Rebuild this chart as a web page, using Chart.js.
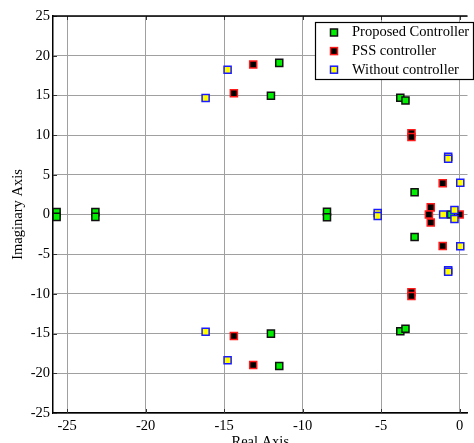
<!DOCTYPE html>
<html>
<head>
<meta charset="utf-8">
<script src="https://cdn.jsdelivr.net/npm/chart.js@4.4.0/dist/chart.umd.min.js"></script>
<style>
  html, body { margin: 0; padding: 0; background: #fff; }
  #wrap { width: 474px; height: 443px; }
</style>
</head>
<body>
<div id="wrap"><canvas id="rootLocus"></canvas></div>
<script>
const xTicks = [-25, -20, -15, -10, -5, 0];
const yTicks = [-25, -20, -15, -10, -5, 0, 5, 10, 15, 20, 25];

// Proposed controller eigenvalues
const proposedRe = [-25.67, -25.67, -23.2, -23.2, -11.49, -11.49, -12.02, -12.02, -8.45, -8.45,
  -3.78, -3.78, -3.45, -3.45, -2.87, -2.87, -0.55];
const proposedIm = [0.3, -0.3, 0.3, -0.3, 19.1, -19.08, 14.95, -15.0, 0.35, -0.35,
  14.7, -14.7, 14.35, -14.38, 2.8, -2.83, 0];

// PSS controller eigenvalues
const pssRe = [-13.15, -13.15, -14.38, -14.38, -3.07, -3.07, -3.07, -3.07,
  -1.08, -1.08, -1.84, -1.96, -1.84, 0];
const pssIm = [18.9, -18.95, 15.27, -15.3, 10.23, 9.76, -9.8, -10.26,
  3.93, -3.97, 0.9, 0, -1.0, 0];

// Without controller eigenvalues
const withoutRe = [-16.18, -16.18, -14.78, -14.78, -0.73, -0.73, -0.73, -0.73,
  0.04, 0.04, -5.22, -5.22, -1.05, -0.33, -0.33];
const withoutIm = [14.67, -14.76, 18.24, -18.36, 7.28, 7.03, -7.03, -7.2,
  4.0, -4.0, 0.2, -0.2, 0, 0.57, -0.57];

const toPoints = (re, im) => re.map((x, i) => ({ x, y: im[i] }));

const serif = { family: '"Liberation Serif", "Times New Roman", serif', size: 14.5 };

// frame (top edge + inward tick marks) and boxed legend like the original figure
const framePlugin = {
  id: 'frame',
  beforeDatasetsDraw(chart) {
    const { ctx, chartArea: a, scales } = chart;
    ctx.save();
    ctx.strokeStyle = '#333';
    ctx.lineWidth = 1;
    xTicks.forEach(v => {
      const px = Math.round(scales.x.getPixelForValue(v)) + 0.5;
      ctx.beginPath();
      ctx.moveTo(px, a.top); ctx.lineTo(px, a.top + 4);
      ctx.moveTo(px, a.bottom); ctx.lineTo(px, a.bottom - 4);
      ctx.stroke();
    });
    yTicks.forEach(v => {
      const py = Math.round(scales.y.getPixelForValue(v)) + 0.5;
      ctx.beginPath();
      ctx.moveTo(a.left, py); ctx.lineTo(a.left + 4, py);
      ctx.stroke();
    });
    ctx.strokeStyle = '#000';
    ctx.lineWidth = 1.5;
    ctx.beginPath();
    ctx.moveTo(a.left, a.top);
    ctx.lineTo(a.right, a.top);
    ctx.stroke();
    ctx.restore();
  },
  afterDatasetsDraw(chart) {
    const { ctx } = chart;
    const box = { x: 315.5, y: 22.5, w: 158, h: 57 };
    ctx.save();
    ctx.fillStyle = '#fff';
    ctx.fillRect(box.x, box.y, box.w, box.h);
    ctx.strokeStyle = '#000';
    ctx.lineWidth = 1.2;
    ctx.strokeRect(box.x, box.y, box.w, box.h);
    ctx.font = serif.size + 'px ' + serif.family;
    ctx.textBaseline = 'middle';
    ctx.fillStyle = '#000';
    chart.data.datasets.forEach((ds, i) => {
      const cy = 32.5 + i * 18.6;
      ctx.fillStyle = ds.backgroundColor;
      ctx.strokeStyle = ds.borderColor;
      ctx.lineWidth = ds.borderWidth;
      ctx.fillRect(330.5, cy - 3.5, 7, 7);
      ctx.strokeRect(330.5, cy - 3.5, 7, 7);
      ctx.fillStyle = '#000';
      ctx.fillText(ds.label, 352, cy);
    });
    ctx.restore();
  }
};

new Chart(document.getElementById('rootLocus'), {
  type: 'scatter',
  data: {
    datasets: [
      {
        label: 'Proposed Controller',
        data: toPoints(proposedRe, proposedIm),
        backgroundColor: '#00ee00',
        borderColor: '#111',
        borderWidth: 1.5,
        order: 2,
      },
      {
        label: 'PSS controller',
        data: toPoints(pssRe, pssIm),
        backgroundColor: '#000',
        borderColor: '#ff1a1a',
        borderWidth: 1.5,
        order: 1,
      },
      {
        label: 'Without controller',
        data: toPoints(withoutRe, withoutIm),
        backgroundColor: '#ffff00',
        borderColor: '#1a1aff',
        borderWidth: 1.5,
        order: 0,
      },
    ],
  },
  options: {
    responsive: true,
    maintainAspectRatio: false,
    animation: false,
    layout: { padding: { top: 16, right: 0, left: 0, bottom: 0 } },
    elements: { point: { pointStyle: 'rect', radius: 5, hoverRadius: 5 } },
    plugins: { legend: { display: false }, tooltip: { enabled: false } },
    scales: {
      x: {
        type: 'linear',
        min: -25.9,
        max: 0.5,
        afterBuildTicks: s => { s.ticks = xTicks.map(v => ({ value: v })); },
        afterFit: s => { s.height = 30; },
        grid: { color: '#a0a0a0', lineWidth: 1, drawTicks: false },
        border: { color: '#000', width: 1.5 },
        ticks: { color: '#000', font: serif, padding: 4, maxRotation: 0 },
        title: { display: true, text: 'Real Axis', color: '#000', font: serif, padding: { top: 0, bottom: -8 } },
      },
      y: {
        type: 'linear',
        min: -25,
        max: 25,
        afterBuildTicks: s => { s.ticks = yTicks.map(v => ({ value: v })); },
        afterFit: s => { s.width = 53; },
        grid: { color: '#a0a0a0', lineWidth: 1, drawTicks: false },
        border: { color: '#000', width: 1.5 },
        ticks: { color: '#000', font: serif, padding: 3 },
        title: { display: true, text: 'Imaginary Axis', color: '#000', font: serif, padding: { top: 9, bottom: 0 } },
      },
    },
  },
  plugins: [framePlugin],
});
</script>
</body>
</html>
